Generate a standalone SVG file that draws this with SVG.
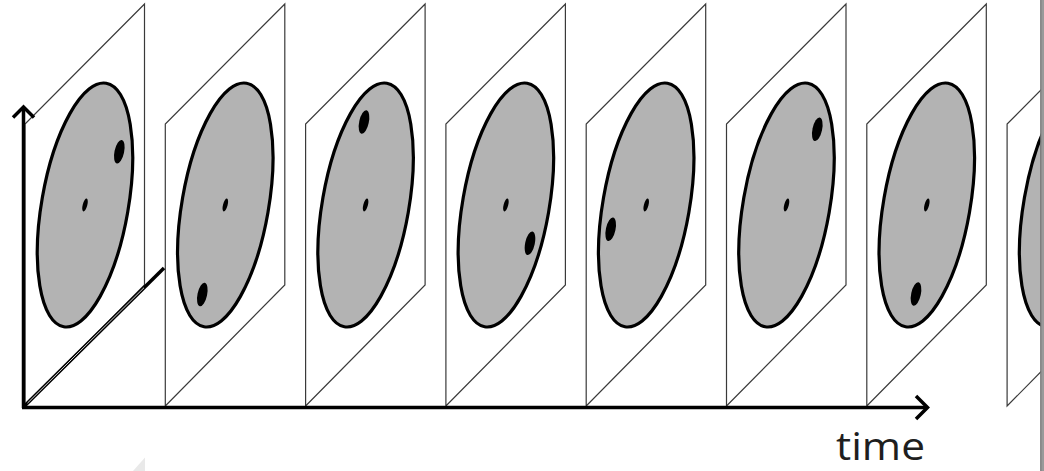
<svg xmlns="http://www.w3.org/2000/svg" xmlns:xlink="http://www.w3.org/1999/xlink" width="1044" height="471" viewBox="0 0 1044 471">
  <style>
    .plane { fill: #ffffff; stroke: #3a3a3a; stroke-width: 1.2; stroke-linejoin: miter; }
    .disc { fill: #b3b3b3; stroke: #000000; stroke-width: 3.2; }
    .hub, .spot { fill: #000000; }
    .axis { fill: none; stroke: #000000; stroke-width: 3.5; stroke-linecap: butt; stroke-linejoin: miter; }
    .label { font-family: "Open Sans", "Noto Sans", "Liberation Sans", sans-serif; font-size: 38px; fill: #1e1e1e; }
  </style>
  <defs>
    <!-- one sheared image plane, drawn at the origin and moved into place per frame -->
    <path id="plane" class="plane" d="M0,406 V124 L119.5,4 V285 Z"/>
    <ellipse id="disc" class="disc" cx="60" cy="205" rx="43.3" ry="123.6" transform="rotate(9.9 60 205)"/>
    <ellipse id="hub" class="hub" cx="60" cy="205" rx="2.3" ry="6.6" transform="rotate(15 60 205)"/>
    <ellipse id="spot" class="spot" cx="0" cy="0" rx="4.8" ry="12" transform="rotate(12)"/>
  </defs>

  <rect x="0" y="0" width="1044" height="471" fill="#ffffff"/>

  <!-- frames along the time axis -->
  <g id="frame-1" transform="translate(25,0)">
    <use xlink:href="#plane"/>
    <use xlink:href="#disc"/>
    <use xlink:href="#hub"/>
    <use xlink:href="#spot" transform="translate(94.3,151.7)"/>
  </g>
  <g id="frame-2" transform="translate(165.3,0)">
    <use xlink:href="#plane"/>
    <use xlink:href="#disc"/>
    <use xlink:href="#hub"/>
    <use xlink:href="#spot" transform="translate(37,294.5)"/>
  </g>
  <g id="frame-3" transform="translate(305.6,0)">
    <use xlink:href="#plane"/>
    <use xlink:href="#disc"/>
    <use xlink:href="#hub"/>
    <use xlink:href="#spot" transform="translate(58.4,122)"/>
  </g>
  <g id="frame-4" transform="translate(445.9,0)">
    <use xlink:href="#plane"/>
    <use xlink:href="#disc"/>
    <use xlink:href="#hub"/>
    <use xlink:href="#spot" transform="translate(84.1,243.3)"/>
  </g>
  <g id="frame-5" transform="translate(586.2,0)">
    <use xlink:href="#plane"/>
    <use xlink:href="#disc"/>
    <use xlink:href="#hub"/>
    <use xlink:href="#spot" transform="translate(24.5,229.3)"/>
  </g>
  <g id="frame-6" transform="translate(726.5,0)">
    <use xlink:href="#plane"/>
    <use xlink:href="#disc"/>
    <use xlink:href="#hub"/>
    <use xlink:href="#spot" transform="translate(90.8,129.3)"/>
  </g>
  <g id="frame-7" transform="translate(866.8,0)">
    <use xlink:href="#plane"/>
    <use xlink:href="#disc"/>
    <use xlink:href="#hub"/>
    <use xlink:href="#spot" transform="translate(49.2,294)"/>
  </g>
  <g id="frame-8" transform="translate(1007.1,0)">
    <use xlink:href="#plane"/>
    <use xlink:href="#disc"/>
  </g>

  <!-- axes -->
  <g id="connectors">
    <path class="axis" d="M23.5,408 V107"/>
    <path class="axis" d="M13,117.5 L23.5,107 L34,117.5"/>
    <path class="axis" d="M22,407.5 H927"/>
    <path class="axis" d="M916,396 L927.5,407.5 L916,419"/>
    <path class="axis" d="M23.5,407 L164,268"/>
    <path d="M27.5,403.1 L144,287.7" fill="none" stroke="#d8d8d8" stroke-width="1"/>
  </g>

  <!-- page edge strip on the right -->
  <rect x="1040.5" y="0" width="3.5" height="471" fill="#9a9a9a"/>
  <line x1="1040.8" y1="0" x2="1040.8" y2="471" stroke="#6e6e6e" stroke-width="1"/>

  <!-- faint mark below the origin -->
  <polygon points="133,471 145,457.5 145,471" fill="#e9e9e9"/>

  <g id="label-time">
    <text class="label" x="836" y="460" textLength="89" lengthAdjust="spacingAndGlyphs">time</text>
  </g>
</svg>
